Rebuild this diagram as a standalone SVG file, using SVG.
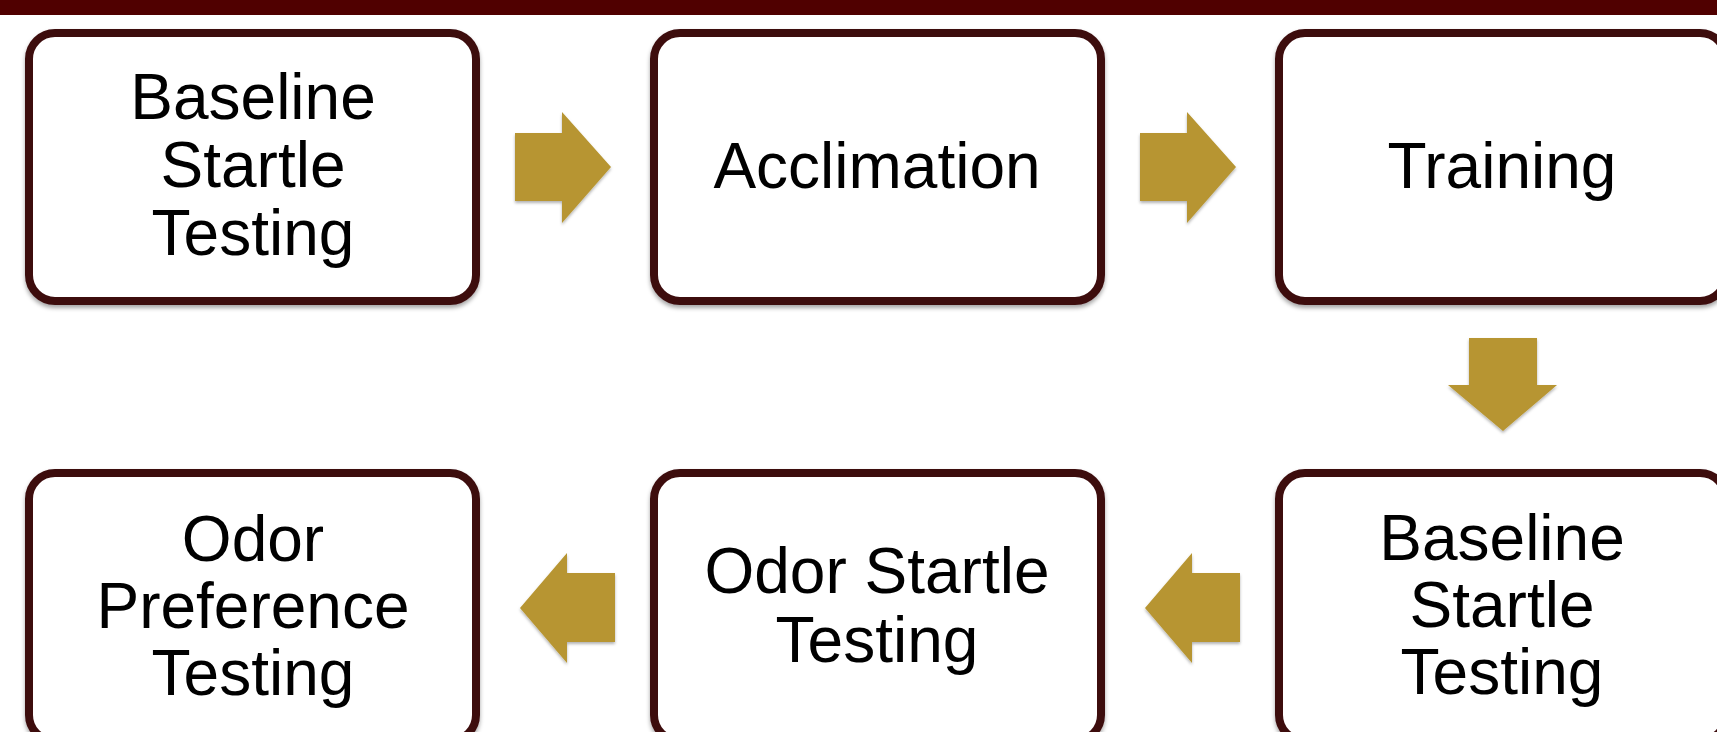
<svg xmlns="http://www.w3.org/2000/svg" width="1717" height="732" viewBox="0 0 1717 732">
  <defs>
    <filter id="shadow" x="-10%" y="-10%" width="120%" height="130%">
      <feDropShadow dx="0" dy="3" stdDeviation="2" flood-color="#000" flood-opacity="0.35"/>
    </filter>
    <filter id="arrowShadow" x="-20%" y="-20%" width="140%" height="150%">
      <feDropShadow dx="0" dy="2" stdDeviation="1.5" flood-color="#000" flood-opacity="0.3"/>
    </filter>
  </defs>
  <style>
    .box { fill: #ffffff; stroke: #3d0d0f; stroke-width: 8; filter: url(#shadow); }
    .label { font-family: "Liberation Sans", Arial, sans-serif; font-size: 64px; fill: #000000; text-anchor: middle; }
    .arrow { fill: #b79531; filter: url(#arrowShadow); }
  </style>

  <!-- header band -->
  <rect x="0" y="0" width="1717" height="15" fill="#500000"/>

  <!-- top row -->
  <g id="baseline-startle-1">
    <rect class="box" x="29" y="33" width="447" height="268" rx="26"/>
    <text class="label" x="253" y="119">Baseline</text>
    <text class="label" x="253" y="187">Startle</text>
    <text class="label" x="253" y="255">Testing</text>
  </g>
  <g id="acclimation">
    <rect class="box" x="654" y="33" width="447" height="268" rx="26"/>
    <text class="label" x="877" y="188">Acclimation</text>
  </g>
  <g id="training">
    <rect class="box" x="1279" y="33" width="447" height="268" rx="26"/>
    <text class="label" x="1502" y="188">Training</text>
  </g>

  <!-- bottom row -->
  <g id="baseline-startle-2">
    <rect class="box" x="1279" y="473" width="447" height="268" rx="26"/>
    <text class="label" x="1502" y="560">Baseline</text>
    <text class="label" x="1502" y="627">Startle</text>
    <text class="label" x="1502" y="694">Testing</text>
  </g>
  <g id="odor-startle">
    <rect class="box" x="654" y="473" width="447" height="268" rx="26"/>
    <text class="label" x="877" y="593">Odor Startle</text>
    <text class="label" x="877" y="662">Testing</text>
  </g>
  <g id="odor-preference">
    <rect class="box" x="29" y="473" width="447" height="268" rx="26"/>
    <text class="label" x="253" y="561">Odor</text>
    <text class="label" x="253" y="628">Preference</text>
    <text class="label" x="253" y="695">Testing</text>
  </g>

  <!-- block arrows between steps -->
  <g id="connectors">
    <path class="arrow" d="M515,133 H562 V112 L611,167 L562,223 V201 H515 Z"/>
    <path class="arrow" d="M1140,133 H1187 V112 L1236,167 L1187,223 V201 H1140 Z"/>
    <path class="arrow" d="M1469,338 H1537 V385 H1557 L1503,431 L1448,385 H1469 Z"/>
    <path class="arrow" d="M1240,573 H1192 V553 L1145,608 L1192,663 V642 H1240 Z"/>
    <path class="arrow" d="M615,573 H567 V553 L520,608 L567,663 V642 H615 Z"/>
  </g>
</svg>
